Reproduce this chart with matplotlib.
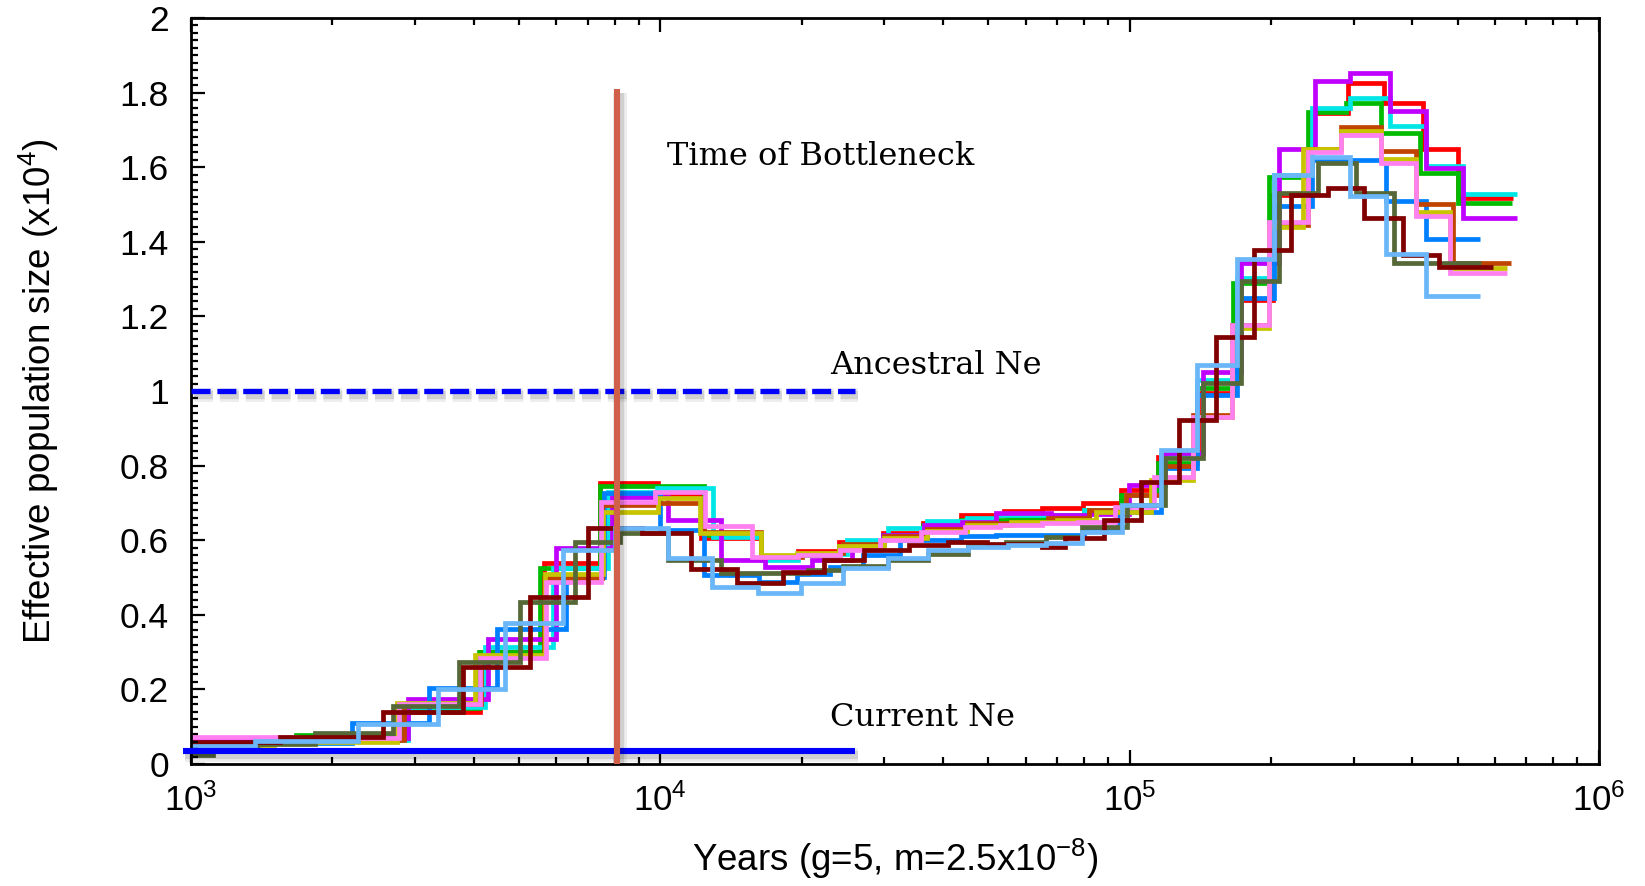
import numpy as np
import matplotlib
matplotlib.use('Agg')
import matplotlib.pyplot as plt
import matplotlib.patheffects as pe
from matplotlib.ticker import LogLocator, MultipleLocator, NullFormatter

plt.rcParams['font.family'] = ['Liberation Sans', 'DejaVu Sans']
plt.rcParams['mathtext.fontset'] = 'custom'
plt.rcParams['mathtext.rm'] = 'Liberation Sans'
plt.rcParams['mathtext.default'] = 'regular'

# PSMC step curves: edges in years, Ne (x10^4) per interval
red_years = [1000, 1550, 2300, 2850, 4130, 5650, 7450, 9890, 12200, 16360, 19620, 24000, 29800, 36200, 43700,
             53900, 65100, 79400, 95700, 114700, 139600, 166600, 201700, 243000, 291600, 348000, 421700, 500400, 655500]
red_ne = [0.06, 0.07, 0.075, 0.14, 0.30, 0.54, 0.753, 0.725, 0.606, 0.555, 0.571, 0.595, 0.62, 0.646, 0.667,
          0.679, 0.686, 0.70, 0.735, 0.823, 0.995, 1.244, 1.525, 1.745, 1.826, 1.772, 1.648, 1.517]

green_years = [1000, 1670, 2800, 4100, 5550, 7450, 12400, 16400, 19600, 24000, 29800, 36200, 43700, 55000,
               67900, 80000, 96000, 114700, 139500, 166000, 197900, 239700, 288800, 342900, 415300, 500400, 652400]
green_ne = [0.06, 0.077, 0.15, 0.30, 0.525, 0.745, 0.615, 0.555, 0.56, 0.585, 0.615, 0.64, 0.655, 0.66,
            0.654, 0.68, 0.72, 0.807, 1.008, 1.289, 1.574, 1.748, 1.772, 1.692, 1.584, 1.504]

cyan_years = [1000, 1400, 2900, 4233, 5900, 7745, 9860, 12950, 16360, 19620, 25000, 30600, 37000, 45000,
              52000, 80000, 98000, 116400, 139500, 169000, 202800, 244400, 294400, 358300, 427400, 512600, 668500]
cyan_ne = [0.05, 0.065, 0.153, 0.313, 0.525, 0.73, 0.74, 0.609, 0.547, 0.563, 0.60, 0.633, 0.652, 0.66,
           0.668, 0.68, 0.72, 0.828, 1.03, 1.303, 1.579, 1.759, 1.785, 1.71, 1.603, 1.528]

purple_years = [1000, 1600, 2900, 4300, 6000, 7900, 10400, 13500, 16700, 21000, 25600, 29800, 36500, 44000,
                52000, 68000, 82000, 99500, 118800, 143000, 172500, 207900, 248100, 294400, 358300, 427400,
                512600, 668500]
purple_ne = [0.065, 0.07, 0.174, 0.335, 0.579, 0.716, 0.654, 0.547, 0.528, 0.547, 0.587, 0.615, 0.641, 0.65,
             0.673, 0.667, 0.67, 0.748, 0.834, 1.05, 1.343, 1.649, 1.832, 1.853, 1.75, 1.598, 1.464]

blue_years = [1000, 1400, 2200, 3220, 4490, 6300, 7600, 10000, 12400, 16200, 19600, 23000, 27000, 32400,
              43700, 52000, 80000, 94500, 116400, 139500, 169000, 202800, 244400, 351600, 427400, 557300]
blue_ne = [0.045, 0.055, 0.11, 0.203, 0.362, 0.50, 0.726, 0.627, 0.507, 0.488, 0.51, 0.528, 0.56, 0.60,
           0.611, 0.615, 0.633, 0.676, 0.793, 0.989, 1.25, 1.496, 1.62, 1.509, 1.407]

orange_years = [1000, 1500, 2850, 4150, 5650, 7500, 9900, 12400, 16400, 20000, 24500, 30000, 37000, 45000,
                56000, 67000, 82000, 98000, 118000, 136200, 165000, 197900, 239700, 281800, 342900, 407300,
                488300, 650000]
orange_ne = [0.055, 0.065, 0.16, 0.29, 0.499, 0.694, 0.70, 0.622, 0.555, 0.565, 0.59, 0.61, 0.63, 0.645,
             0.65, 0.66, 0.68, 0.72, 0.80, 0.936, 1.177, 1.445, 1.65, 1.708, 1.643, 1.501, 1.343]

yellow_years = [1000, 1500, 2750, 4030, 5685, 7550, 9890, 12160, 16400, 19600, 24000, 30000, 37000, 45000,
                56000, 70000, 85000, 110900, 136200, 165000, 197900, 233800, 281800, 342900, 407300, 481200,
                636500]
yellow_ne = [0.05, 0.06, 0.164, 0.292, 0.51, 0.676, 0.712, 0.62, 0.56, 0.565, 0.585, 0.605, 0.625, 0.64,
             0.648, 0.655, 0.675, 0.761, 0.93, 1.17, 1.44, 1.65, 1.697, 1.622, 1.48, 1.33]

pink_years = [1000, 1683, 2770, 4130, 5700, 7490, 9750, 12470, 15710, 19620, 24150, 29400, 36000, 44500,
              53000, 65000, 77450, 93300, 112500, 136200, 165000, 197900, 239700, 281800, 342900, 407300,
              481200, 636500]
pink_ne = [0.073, 0.07, 0.16, 0.283, 0.488, 0.702, 0.73, 0.637, 0.556, 0.56, 0.574, 0.60, 0.622, 0.636,
           0.64, 0.646, 0.65, 0.69, 0.77, 0.93, 1.177, 1.453, 1.641, 1.686, 1.611, 1.469, 1.316]

olive_years = [1000, 1114, 1383, 1838, 2692, 3726, 5028, 6574, 8210, 10400, 13500, 20600, 24500, 30500,
               37200, 45300, 54500, 66300, 79000, 98500, 118800, 143000, 172500, 207900, 251800, 303400,
               365500, 560000]
olive_ne = [0.024, 0.04, 0.054, 0.082, 0.155, 0.273, 0.435, 0.595, 0.619, 0.547, 0.512, 0.52, 0.53, 0.547,
            0.563, 0.587, 0.595, 0.608, 0.636, 0.694, 0.82, 1.021, 1.295, 1.531, 1.611, 1.531, 1.343]

darkred_years = [1000, 1548, 2567, 3800, 5278, 7030, 9160, 11600, 14600, 18240, 22300, 27200, 33800, 41000,
                 49700, 65000, 73000, 88000, 105600, 127200, 152500, 183800, 220400, 264400, 315600, 382100,
                 455600, 594300]
darkred_ne = [0.06, 0.072, 0.14, 0.26, 0.448, 0.633, 0.62, 0.522, 0.486, 0.515, 0.547, 0.574, 0.587, 0.595,
              0.59, 0.582, 0.606, 0.654, 0.756, 0.922, 1.145, 1.378, 1.525, 1.544, 1.464, 1.365, 1.333]

lightblue_years = [1000, 1370, 2270, 3360, 4668, 6200, 8020, 10400, 12900, 16150, 19900, 24500, 30500, 37200,
                   45200, 55000, 66300, 79000, 96100, 116400, 139500, 169000, 202800, 244400, 294400, 351600,
                   427400, 557300]
lightblue_ne = [0.048, 0.062, 0.107, 0.2, 0.378, 0.574, 0.633, 0.552, 0.475, 0.458, 0.486, 0.525, 0.552, 0.574,
                0.582, 0.587, 0.593, 0.622, 0.694, 0.842, 1.07, 1.354, 1.579, 1.627, 1.523, 1.367, 1.255]

curves = [
    (red_years, red_ne, '#ff0000'),
    (green_years, green_ne, '#00bb00'),
    (cyan_years, cyan_ne, '#00e6e6'),
    (purple_years, purple_ne, '#c000ff'),
    (blue_years, blue_ne, '#0080ff'),
    (orange_years, orange_ne, '#c04400'),
    (yellow_years, yellow_ne, '#c8c400'),
    (pink_years, pink_ne, '#ff80f0'),
    (olive_years, olive_ne, '#566838'),
    (darkred_years, darkred_ne, '#800000'),
    (lightblue_years, lightblue_ne, '#6ab6f8'),
]

# reference markers
bottleneck_year = 8100
bottleneck_top = 1.81
ancestral_ne = 1.0
current_ne = 0.035
ref_start, ref_end = 960, 26000

fig = plt.figure(figsize=(16.45, 8.86), dpi=100)
ax = fig.add_axes([0.1161, 0.1377, 0.8559, 0.8420])

for yrs, ne, col in curves:
    ax.stairs(ne, yrs, baseline=None, color=col, linewidth=3.4)

shadow = [pe.SimpleLineShadow(offset=(2, -3), shadow_color='k', alpha=0.07, linewidth=10),
          pe.SimpleLineShadow(offset=(2, -3), shadow_color='k', alpha=0.12, linewidth=6),
          pe.Normal()]

ax.plot([1000, ref_end], [ancestral_ne, ancestral_ne], color='#0000ff', linewidth=3.8,
        dashes=(3.6, 1.3), path_effects=shadow, zorder=5)
ax.plot([ref_start, ref_end], [current_ne, current_ne], color='#0000ff', linewidth=4.4,
        path_effects=shadow, zorder=5, clip_on=False, solid_capstyle='butt')
ax.plot([bottleneck_year, bottleneck_year], [0, bottleneck_top], color='#d0604a', linewidth=4.4,
        path_effects=shadow, zorder=6, solid_capstyle='butt')

ax.text(10350, 1.606, 'Time of Bottleneck', family='DejaVu Serif', fontsize=23, va='baseline')
ax.text(23040, 1.046, 'Ancestral Ne', family='DejaVu Serif', fontsize=23, va='baseline')
ax.text(22950, 0.102, 'Current Ne', family='DejaVu Serif', fontsize=23, va='baseline')

ax.set_xscale('log')
ax.set_xlim(1000, 1e6)
ax.set_ylim(0, 2)
ax.xaxis.set_major_locator(LogLocator(base=10, numticks=10))
ax.xaxis.set_minor_locator(LogLocator(base=10, subs=np.arange(2, 10), numticks=20))
ax.xaxis.set_minor_formatter(NullFormatter())
ax.yaxis.set_minor_locator(MultipleLocator(0.02))
ax.set_yticks(np.arange(0, 2.01, 0.2))
ax.set_yticklabels(['0', '0.2', '0.4', '0.6', '0.8', '1', '1.2', '1.4', '1.6', '1.8', '2'])

ax.tick_params(which='both', direction='in', top=True, right=False, width=1.6)
ax.tick_params(axis='x', labelsize=25)
ax.tick_params(axis='y', labelsize=25.5)
ax.tick_params(which='major', length=10)
ax.tick_params(which='minor', length=5)
ax.tick_params(axis='x', pad=14)
ax.tick_params(axis='y', pad=16)
for s in ax.spines.values():
    s.set_linewidth(2.0)

ax.set_xlabel('Years (g=5, m=2.5x10$^{-8}$)', fontsize=26.5)
ax.set_ylabel('Effective population size (x10$^4$)', fontsize=26.5)
ax.xaxis.set_label_coords(0.5, -0.098)
ax.yaxis.set_label_coords(-0.092, 0.5)

fig.savefig('out.png', dpi=100)
